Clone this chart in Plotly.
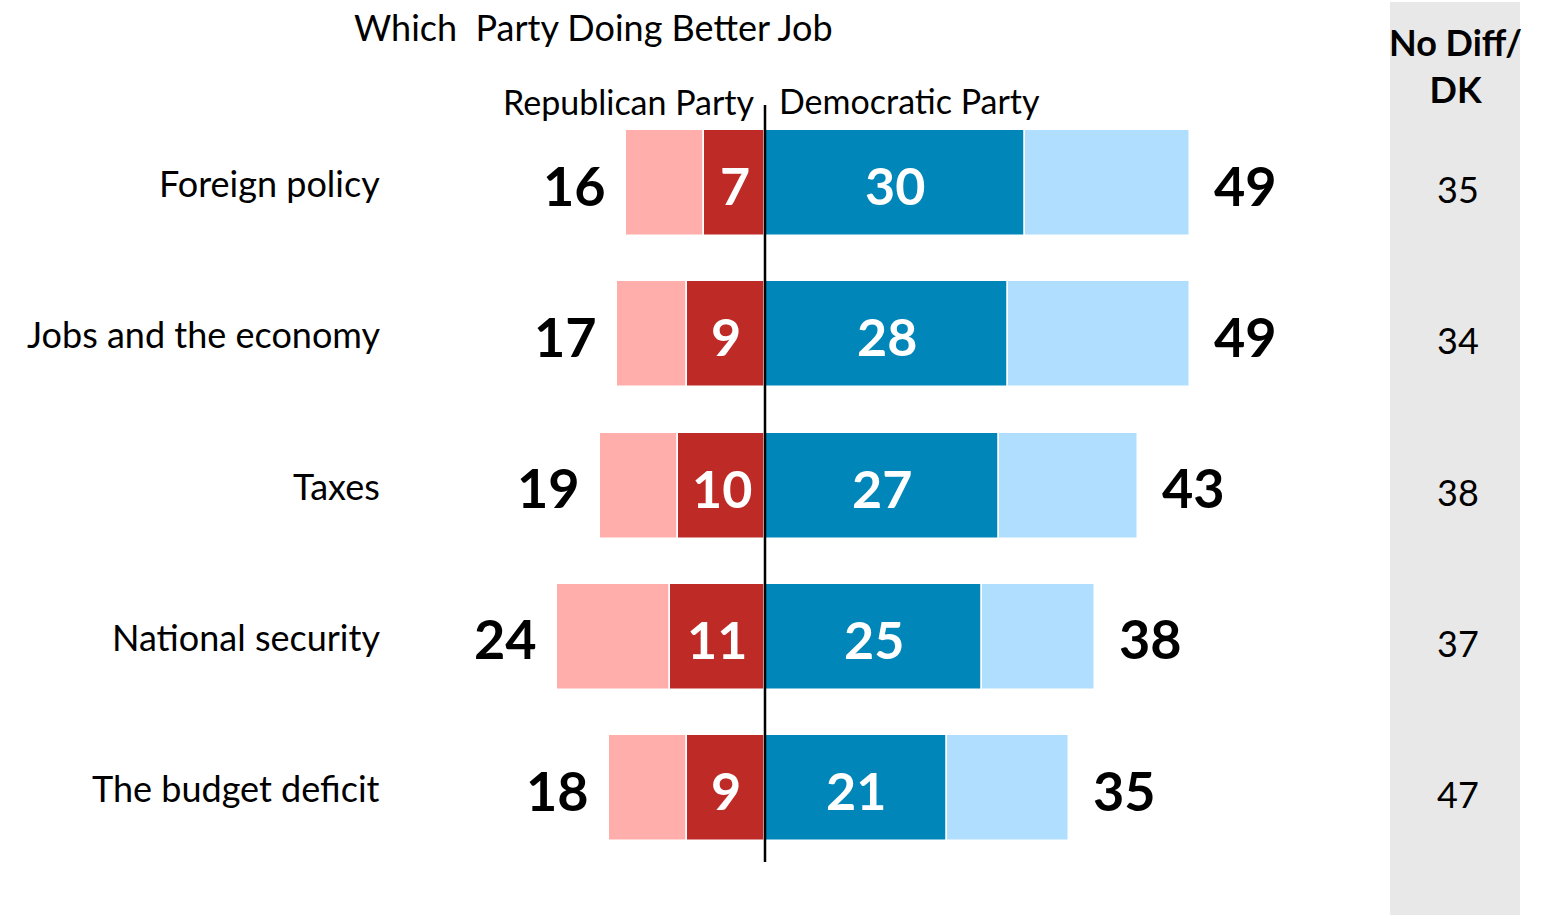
import plotly.graph_objects as go

# ---- data ----
categories = ["Foreign policy", "Jobs and the economy", "Taxes", "National security", "The budget deficit"]
rep_total = [16, 17, 19, 24, 18]
rep_strong = [7, 9, 10, 11, 9]
dem_total = [49, 49, 43, 38, 35]
dem_strong = [30, 28, 27, 25, 21]
no_diff = [35, 34, 38, 37, 47]

# ---- layout geometry (pixels) ----
W, H = 1547, 915
CX = 765          # pixel of zero
PPU = 8.68        # pixels per unit
ROW0 = 183        # pixel y of first row center
PITCH = 151.3

def px2x(px):
    return (px - CX) / PPU

def py2paper(py):
    return 1 - py / H

FONT = "Lato"
LIGHT_RED = "#FFAEAB"
DARK_RED = "#BE2A26"
DARK_BLUE = "#0086B8"
LIGHT_BLUE = "#B0DEFF"

idx = list(range(len(categories)))
fig = go.Figure()

common = dict(orientation="h", width=0.7, hoverinfo="skip",
              marker_line=dict(color="white", width=1.5))

fig.add_trace(go.Bar(y=idx, x=[t - s for t, s in zip(rep_total, rep_strong)],
                     base=[-t for t in rep_total], marker_color=LIGHT_RED, **common))
fig.add_trace(go.Bar(y=idx, x=rep_strong, base=[-s for s in rep_strong],
                     marker_color=DARK_RED, **common))
fig.add_trace(go.Bar(y=idx, x=dem_strong, base=[0] * len(idx),
                     marker_color=DARK_BLUE, **common))
fig.add_trace(go.Bar(y=idx, x=[t - s for t, s in zip(dem_total, dem_strong)],
                     base=dem_strong, marker_color=LIGHT_BLUE, **common))

ann = []
for i, cat in enumerate(categories):
    ann.append(dict(x=px2x(382), y=i, text=cat, xanchor="right", yanchor="middle",
                    showarrow=False, font=dict(family=FONT, size=36, color="black")))
    ann.append(dict(x=-rep_total[i] - 18 / PPU, y=i, text=f"<b>{rep_total[i]}</b>",
                    xanchor="right", yanchor="middle", showarrow=False, yshift=-2,
                    font=dict(family=FONT, size=54, color="black")))
    ann.append(dict(x=-rep_strong[i] / 2, y=i, text=f"<b>{rep_strong[i]}</b>",
                    xanchor="center", yanchor="middle", showarrow=False, yshift=-2,
                    font=dict(family=FONT, size=52, color="white")))
    ann.append(dict(x=dem_strong[i] / 2, y=i, text=f"<b>{dem_strong[i]}</b>",
                    xanchor="center", yanchor="middle", showarrow=False, yshift=-2,
                    font=dict(family=FONT, size=52, color="white")))
    ann.append(dict(x=dem_total[i] + 22 / PPU, y=i, text=f"<b>{dem_total[i]}</b>",
                    xanchor="left", yanchor="middle", showarrow=False, yshift=-2,
                    font=dict(family=FONT, size=54, color="black")))
    ann.append(dict(x=1458 / W, xref="paper", y=i, text=str(no_diff[i]),
                    xanchor="center", yanchor="middle", showarrow=False, yshift=-6,
                    font=dict(family=FONT, size=36, color="black")))

ann.append(dict(x=352 / W, xref="paper", y=py2paper(27), yref="paper",
                text="Which  Party Doing Better Job", xanchor="left", yanchor="middle",
                showarrow=False, font=dict(family=FONT, size=36, color="black")))
ann.append(dict(x=757 / W, xref="paper", y=py2paper(101), yref="paper",
                text="Republican Party", xanchor="right", yanchor="middle",
                showarrow=False, font=dict(family=FONT, size=34, color="black")))
ann.append(dict(x=777 / W, xref="paper", y=py2paper(100), yref="paper",
                text="Democratic Party", xanchor="left", yanchor="middle",
                showarrow=False, font=dict(family=FONT, size=34, color="black")))
ann.append(dict(x=1455 / W, xref="paper", y=py2paper(66), yref="paper",
                text="<b>No Diff/</b><br><b>DK</b>", xanchor="center", yanchor="middle",
                showarrow=False, font=dict(family=FONT, size=36, color="black")))

shapes = [
    dict(type="rect", xref="paper", yref="paper", x0=1390 / W, x1=1520 / W,
         y0=py2paper(915), y1=py2paper(2), fillcolor="#E8E8E8", line_width=0, layer="below"),
    dict(type="line", xref="x", yref="y", x0=0, x1=0,
         y0=(105 - ROW0) / PITCH, y1=(862 - ROW0) / PITCH,
         line=dict(color="black", width=2.5), layer="above"),
]

fig.update_layout(
    width=W, height=H, margin=dict(l=0, r=0, t=0, b=0),
    paper_bgcolor="white", plot_bgcolor="white",
    barmode="overlay", bargap=0, showlegend=False,
    xaxis=dict(range=[px2x(0), px2x(W)], visible=False, fixedrange=True),
    yaxis=dict(range=[(H - ROW0) / PITCH, -ROW0 / PITCH], visible=False, fixedrange=True),
    annotations=ann, shapes=shapes,
)

fig.write_html("out.html", post_script="document.body.style.margin='0';",
               config={"displayModeBar": False})
